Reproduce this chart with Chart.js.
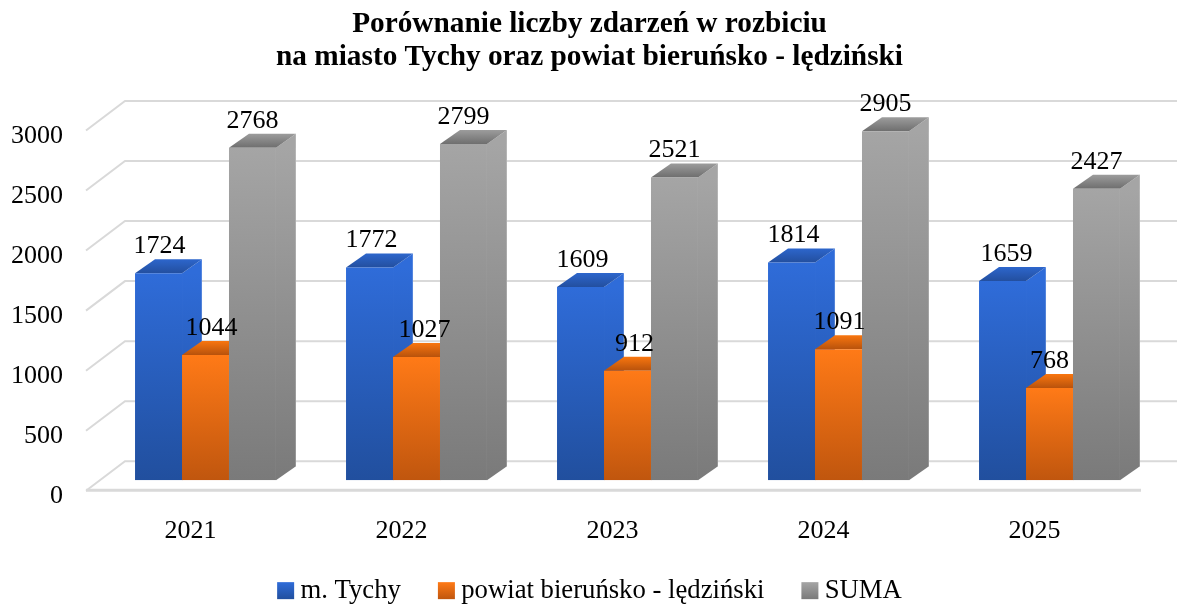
<!DOCTYPE html>
<html>
<head>
<meta charset="utf-8">
<style>
  html, body { margin: 0; padding: 0; background: #fff; }
  canvas { display: block; }
</style>
<script src="https://cdn.jsdelivr.net/npm/chart.js@4/dist/chart.umd.min.js"></script>
</head>
<body>
<canvas id="myChart" width="1177" height="606"></canvas>
<script>
const years = ['2021', '2022', '2023', '2024', '2025'];
const tychy = [1724, 1772, 1609, 1814, 1659];
const powiat = [1044, 1027, 912, 1091, 768];
const suma = [2768, 2799, 2521, 2905, 2427];
const seriesNames = ['m. Tychy', 'powiat bieruńsko - lędziński', 'SUMA'];

// [light, dark] front colours, [back, front] colours of the top face
const frontColors = [['#2f6cd9', '#214f9e'], ['#ff7a17', '#c0560e'], ['#a5a5a5', '#7a7a7a']];
const topColors = [['#2d66cc', '#234f9f'], ['#f9760f', '#b8520c'], ['#9c9c9c', '#6e6e6e']];
// labels were moved by hand in the original
const labelShift = [[1, 2, 2, 2, 4], [6, 8, 7, 1, 0], [0, 0, 0, 0, 0]];

const DX = 20, DY = 14;
const FONT = '"Liberation Serif", "Times New Roman", serif';
const FONT_SIZE = 26;

function vGrad(ctx, y0, y1, c) {
    let g = ctx.createLinearGradient(0, y0, 0, y1);
    g.addColorStop(0, c[0]);
    g.addColorStop(1, c[1]);
    return g;
}

function frontFill(i) {
    return function (context) {
        let chart = context.chart;
        if (!chart.chartArea || context.raw === undefined) return frontColors[i][0];
        let y = chart.scales.y.getPixelForValue(context.raw);
        return vGrad(chart.ctx, y, chart.scales.y.getPixelForValue(0), frontColors[i]);
    };
}

const threeD = {
    id: 'threeD',
    beforeDatasetsDraw(chart) {
        let ctx = chart.ctx, sy = chart.scales.y;
        ctx.save();
        // walls and floor
        ctx.strokeStyle = '#d9d9d9';
        ctx.lineWidth = 2;
        sy.ticks.forEach((t, i) => {
            let py = sy.getPixelForTick(i);
            ctx.beginPath();
            ctx.moveTo(86, py + 10.5);
            ctx.lineTo(125, py - 19);
            ctx.lineTo(chart.width, py - 19);
            ctx.stroke();
        });
        ctx.lineWidth = 3;
        ctx.beginPath();
        ctx.moveTo(86, sy.getPixelForValue(0) + 10);
        ctx.lineTo(1141, sy.getPixelForValue(0) + 10);
        ctx.stroke();
        // side and top faces, the library paints the fronts over them
        chart.data.datasets.forEach((ds, i) => {
            chart.getDatasetMeta(i).data.forEach(bar => {
                let l = bar.x - bar.width / 2, r = bar.x + bar.width / 2;
                let t = bar.y, b = bar.base;
                ctx.fillStyle = vGrad(ctx, t, b, frontColors[i]);
                ctx.beginPath();
                ctx.moveTo(r, t);
                ctx.lineTo(r + DX, t - DY);
                ctx.lineTo(r + DX, b - DY);
                ctx.lineTo(r, b);
                ctx.closePath();
                ctx.fill();
                ctx.strokeStyle = 'rgba(255,255,255,0.18)';
                ctx.lineWidth = 1;
                ctx.beginPath();
                ctx.moveTo(r + DX - 0.5, t - DY);
                ctx.lineTo(r + DX - 0.5, b - DY);
                ctx.stroke();
                ctx.fillStyle = vGrad(ctx, t - DY, t, topColors[i]);
                ctx.beginPath();
                ctx.moveTo(l, t);
                ctx.lineTo(l + DX, t - DY);
                ctx.lineTo(r + DX, t - DY);
                ctx.lineTo(r, t);
                ctx.closePath();
                ctx.fill();
            });
        });
        ctx.restore();
    },
    afterDatasetsDraw(chart) {
        let ctx = chart.ctx;
        ctx.save();
        ctx.font = FONT_SIZE + 'px ' + FONT;
        ctx.fillStyle = '#000';
        ctx.textAlign = 'center';
        ctx.textBaseline = 'middle';
        chart.data.datasets.forEach((ds, i) => {
            chart.getDatasetMeta(i).data.forEach((bar, j) => {
                ctx.fillText(ds.data[j], bar.x + labelShift[i][j], bar.y - 27);
            });
        });
        ctx.restore();
    },
    afterDraw(chart) {
        // legend squares are larger than the box the legend leaves for them
        let ctx = chart.ctx;
        chart.legend.legendHitBoxes.forEach((h, i) => {
            let y0 = h.top + (h.height - 17) / 2;
            ctx.fillStyle = vGrad(ctx, y0, y0 + 17, frontColors[i]);
            ctx.fillRect(h.left, y0, 17, 17);
        });
    }
};

const datasets = [tychy, powiat, suma].map((vals, i) => ({
    label: seriesNames[i],
    data: vals,
    backgroundColor: frontFill(i),
    borderWidth: 0
}));

new Chart(document.getElementById('myChart'), {
    type: 'bar',
    data: { labels: years, datasets: datasets },
    plugins: [threeD],
    options: {
        responsive: false,
        animation: false,
        categoryPercentage: 0.668,
        barPercentage: 1,
        layout: { padding: { left: 1, right: -1, top: 0, bottom: -8 } },
        scales: {
            x: {
                grid: { display: false },
                border: { display: false },
                afterFit(scale) { scale.height = 60; },
                ticks: {
                    color: '#000',
                    font: { family: FONT, size: FONT_SIZE },
                    labelOffset: -15,
                    padding: 27,
                    maxRotation: 0
                }
            },
            y: {
                min: 0,
                max: 3000,
                grid: { display: false, drawTicks: false },
                border: { display: false },
                afterFit(scale) { scale.width = 99; },
                ticks: {
                    stepSize: 500,
                    color: '#000',
                    font: { family: FONT, size: FONT_SIZE },
                    labelOffset: 16,
                    padding: 37,
                    callback: v => String(v)
                }
            },
            // empty axis, only keeps the plot clear of the right edge
            yRight: {
                position: 'right',
                min: 0,
                max: 3000,
                grid: { display: false, drawTicks: false },
                border: { display: false },
                ticks: { display: false },
                afterFit(scale) { scale.width = 23; }
            }
        },
        plugins: {
            title: {
                display: true,
                text: ['Porównanie liczby zdarzeń w rozbiciu', 'na miasto Tychy oraz powiat bieruńsko - lędziński'],
                color: '#000',
                font: { family: FONT, size: 29.3, weight: 'bold', lineHeight: 1.125 },
                padding: { top: 8, bottom: 46 }
            },
            legend: {
                position: 'bottom',
                labels: {
                    color: '#000',
                    font: { family: FONT, size: 26.7 },
                    boxWidth: 10,
                    boxHeight: 17,
                    padding: 37,
                    generateLabels(chart) {
                        return chart.data.datasets.map((ds, i) => ({
                            text: ds.label,
                            fillStyle: 'rgba(0,0,0,0)',
                            strokeStyle: 'rgba(0,0,0,0)',
                            lineWidth: 0,
                            fontColor: '#000',
                            datasetIndex: i
                        }));
                    }
                }
            },
            tooltip: { enabled: false }
        }
    }
});
</script>
</body>
</html>
